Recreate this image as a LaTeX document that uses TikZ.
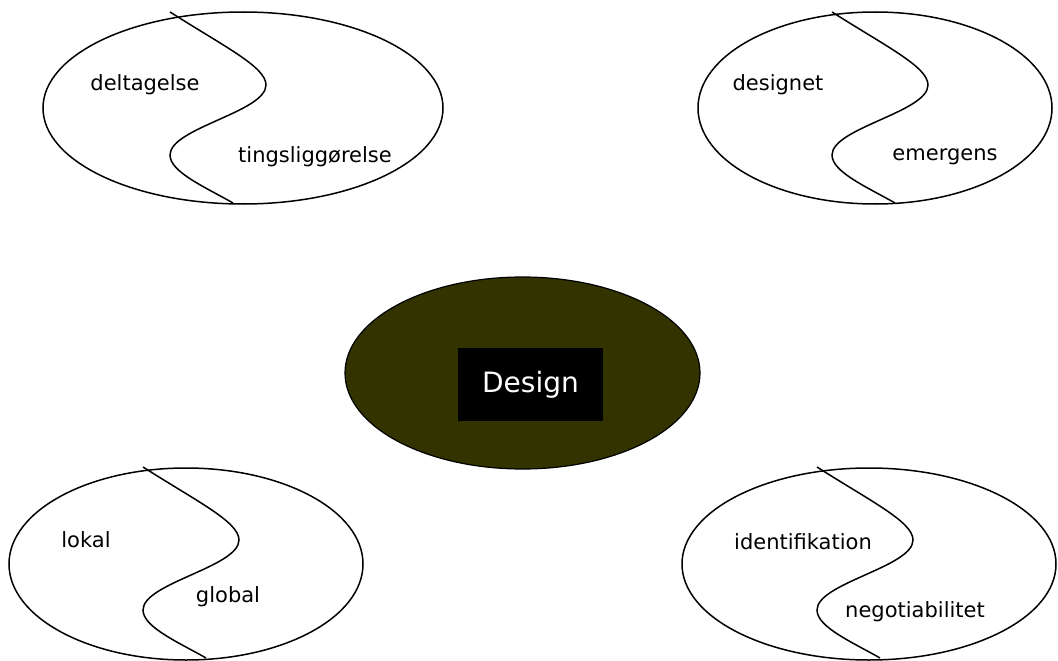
\documentclass[tikz,border=0pt]{standalone}
\usepackage{fontspec}
\setmainfont{DejaVu Sans}
\usetikzlibrary{shapes.geometric}
\definecolor{olivedark}{HTML}{333300}
\tikzset{
  ring/.style={draw=black, line width=1.5pt, ellipse, inner sep=0pt},
  lbl/.style={font=\fontsize{21}{25}\selectfont, inner sep=0pt},
  splitline/.style={draw=black, line width=1.5pt},
}
\newcommand{\sline}[2]{%
  \draw[splitline, shift={(#1,#2)}] (0,0) .. controls (55,35) and (96,55) .. (96,73)
     .. controls (96,100) and (0,116) .. (0,143)
     .. controls (0,160) and (35,175) .. (63,191);}
\begin{document}
\begin{tikzpicture}[x=1pt,y=-1pt]
\useasboundingbox (0,0) rectangle (1058,661);
% top-left
\node[ring, minimum width=400pt, minimum height=192pt] (e1) at (243,108) {};
\sline{170}{12}
\node[lbl] (t1a) at (145,85) {deltagelse};
\node[lbl] (t1b) at (315,157) {tingsliggørelse};
% top-right
\node[ring, minimum width=354pt, minimum height=192pt] (e2) at (875,108) {};
\sline{832}{12}
\node[lbl] (t2a) at (778,85) {designet};
\node[lbl] (t2b) at (945,157) {emergens};
% bottom-left
\node[ring, minimum width=354pt, minimum height=192pt] (e3) at (186,564) {};
\sline{143}{467}
\node[lbl] (t3a) at (86,540) {lokal};
\node[lbl] (t3b) at (228,597) {global};
% bottom-right
\node[ring, minimum width=374pt, minimum height=192pt] (e4) at (869,564) {};
\sline{817}{467}
\node[lbl] (t4a) at (803,542) {identifikation};
\node[lbl] (t4b) at (915,612) {negotiabilitet};
% centre
\node[ring, line width=1.2pt, fill=olivedark, minimum width=355pt, minimum height=192pt] (ec) at (522.5,373) {};
\node[fill=black, minimum width=145pt, minimum height=73pt, inner sep=0pt,
      text=white, font=\fontsize{28}{32}\selectfont] (design) at (530.5,384.5) {Design};
\end{tikzpicture}
\end{document}
